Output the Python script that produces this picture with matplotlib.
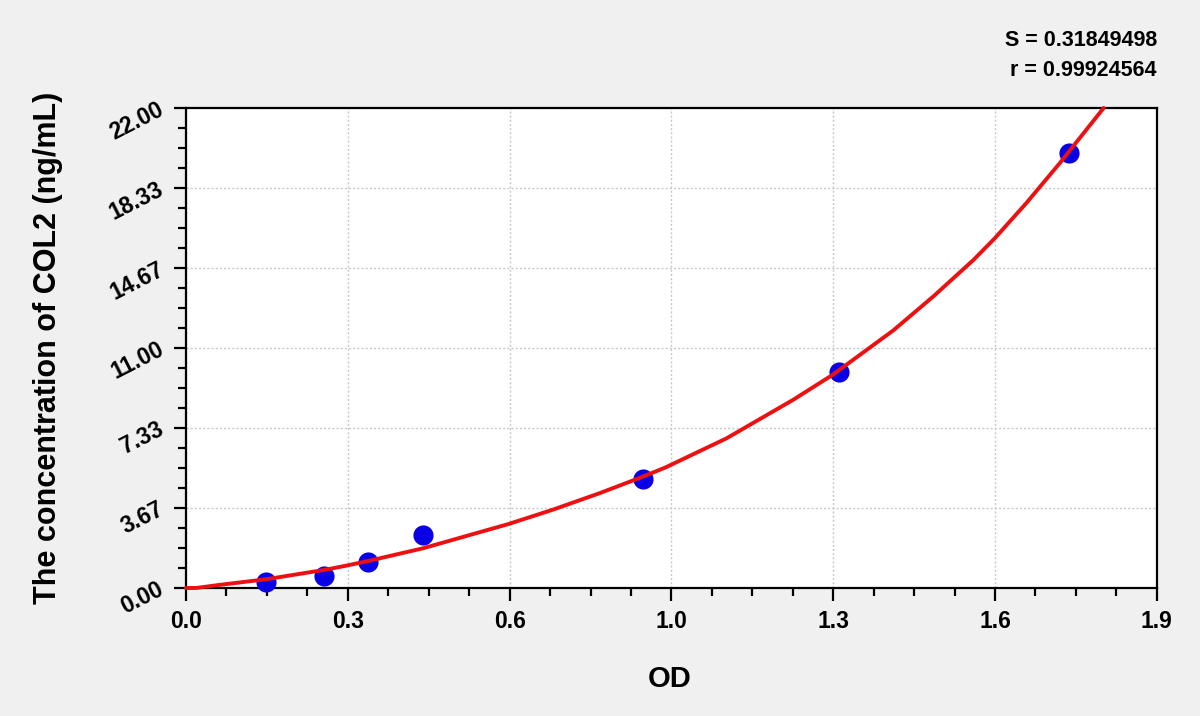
import matplotlib
matplotlib.use("Agg")
import matplotlib.pyplot as plt
from matplotlib.ticker import FixedLocator, FixedFormatter, AutoMinorLocator

plt.rcParams['font.family'] = ['Liberation Sans', 'DejaVu Sans']

# Standard points (OD, concentration)
od_points = [0.157, 0.271, 0.357, 0.464, 0.894, 1.278, 1.728]
conc_points = [0.29, 0.55, 1.21, 2.43, 4.98, 9.91, 19.92]

# Fitted curve
curve_od = [0.0, 0.020, 0.065, 0.157, 0.271, 0.313, 0.357, 0.464, 0.631, 0.717,
            0.809, 0.894, 0.939, 1.058, 1.188, 1.265, 1.384, 1.462, 1.541,
            1.583, 1.645, 1.710, 1.796]
curve_conc = [0.0, 0.0, 0.14, 0.40, 0.83, 1.02, 1.24, 1.82, 2.93, 3.58,
              4.34, 5.10, 5.53, 6.86, 8.62, 9.76, 11.80, 13.35, 15.03,
              16.03, 17.65, 19.47, 22.0]

x_ticks = [0.0, 1.9 / 6, 2 * 1.9 / 6, 3 * 1.9 / 6, 4 * 1.9 / 6, 5 * 1.9 / 6, 1.9]
x_labels = ["0.0", "0.3", "0.6", "1.0", "1.3", "1.6", "1.9"]
y_ticks = [0.0, 22 / 6, 2 * 22 / 6, 3 * 22 / 6, 4 * 22 / 6, 5 * 22 / 6, 22.0]
y_labels = ["0.00", "3.67", "7.33", "11.00", "14.67", "18.33", "22.00"]

stats = ["S = 0.31849498", "r = 0.99924564"]

fig = plt.figure(figsize=(12, 7.16), dpi=100, facecolor='#f0f0f0')
ax = fig.add_axes([0.155, 0.1788, 0.809, 0.6704])
ax.set_facecolor('white')

ax.set_xlim(0, 1.9)
ax.set_ylim(0, 22)

ax.xaxis.set_major_locator(FixedLocator(x_ticks))
ax.xaxis.set_major_formatter(FixedFormatter(x_labels))
ax.yaxis.set_major_locator(FixedLocator(y_ticks))
ax.yaxis.set_major_formatter(FixedFormatter(y_labels))
ax.xaxis.set_minor_locator(AutoMinorLocator(4))
ax.yaxis.set_minor_locator(AutoMinorLocator(4))

ax.tick_params(axis='both', which='major', length=9, width=1.6, direction='out',
               color='black', labelsize=16.5)
ax.tick_params(axis='both', which='minor', length=6, width=1.6, direction='out',
               color='black')
ax.tick_params(axis='x', which='major', pad=7)
ax.tick_params(axis='y', which='major', pad=8)

fig.canvas.draw()
for lab in ax.get_xticklabels():
    lab.set_fontweight('bold')
for lab in ax.get_yticklabels():
    lab.set_fontweight('bold')
    lab.set_rotation(27)
    lab.set_rotation_mode('anchor')
    lab.set_ha('right')
    lab.set_va('center')

for sp in ax.spines.values():
    sp.set_linewidth(1.6)
    sp.set_color('black')

ax.grid(True, which='major', linestyle=(0, (1.5, 1.5)), color='#c8c8c8', linewidth=1.0)
ax.set_axisbelow(True)

ax.plot(od_points, conc_points, 'o', color='#0a00e6', markersize=14.5,
        markeredgewidth=0, zorder=3, clip_on=False)
ax.plot(curve_od, curve_conc, '-', color='#ee1010', linewidth=2.8, zorder=4,
        clip_on=False, solid_joinstyle='round', solid_capstyle='round')

fig.text(1157 / 1200, 1 - 40 / 716, stats[0], ha='right', va='center',
         fontsize=15.5, fontweight='bold')
fig.text(1157 / 1200, 1 - 70 / 716, stats[1], ha='right', va='center',
         fontsize=15.5, fontweight='bold')

fig.text(48 / 1200, 1 - 348 / 716, "The concentration of COL2 (ng/mL)",
         rotation=90, ha='center', va='center', fontsize=22, fontweight='bold')
fig.text(670 / 1200, 1 - 679 / 716, "OD", ha='center', va='center',
         fontsize=21, fontweight='bold')

fig.savefig("out.png", dpi=100, facecolor=fig.get_facecolor())
